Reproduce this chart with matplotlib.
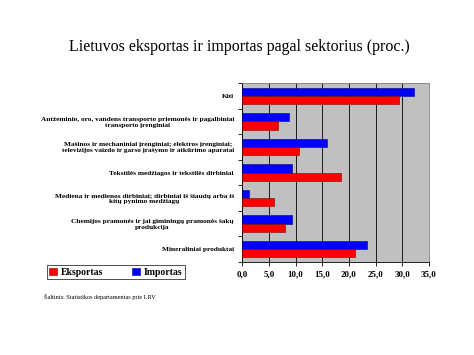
import matplotlib.pyplot as plt
import numpy as np

plt.rcParams['font.family'] = ['Liberation Serif', 'DejaVu Serif']

# sektoriai (iš viršaus į apačią)
sektoriai = [
    "Kiti",
    "Antžeminio, oro, vandens transporto priemonės ir pagalbiniai\ntransporto įrenginiai",
    "Mašinos ir mechaniniai įrenginiai; elektros įrenginiai;\ntelevizijos vaizdo ir garso įrašymo ir atkūrimo aparatai",
    "Tekstilės medžiagos ir tekstilės dirbiniai",
    "Mediena ir medienos dirbiniai; dirbiniai iš šiaudų arba iš\nkitų pynimo medžiagų",
    "Chemijos pramonės ir jai giminingų pramonės šakų\nprodukcija",
    "Mineraliniai produktai",
]
eksportas = [29.4, 6.8, 10.7, 18.5, 5.9, 8.0, 21.1]
importas = [32.2, 8.7, 15.8, 9.4, 1.3, 9.4, 23.4]
x_ticks = [0, 5, 10, 15, 20, 25, 30, 35]

fig = plt.figure(figsize=(4.74, 3.55), dpi=100)
ax = fig.add_axes([0.511, 0.262, 0.394, 0.504])
ax.set_facecolor('#c0c0c0')

y = np.arange(len(sektoriai))
h = 0.32
ax.barh(y - h / 2, importas, height=h, color='#0000ff', edgecolor='#000080', linewidth=0.4, label='Importas', zorder=3)
ax.barh(y + h / 2, eksportas, height=h, color='#ff0000', edgecolor='#800000', linewidth=0.4, label='Eksportas', zorder=3)

ax.set_xlim(0, 35)
ax.set_ylim(len(sektoriai) - 0.5, -0.5)
ax.set_xticks(x_ticks)
ax.set_xticklabels([f"{v:.1f}".replace('.', ',') for v in x_ticks], fontsize=6.5, fontweight='bold')
ax.set_yticks(y)
ax.set_yticklabels(sektoriai, fontsize=5.3, fontweight='bold', multialignment='center')
ax.set_yticks(np.arange(len(sektoriai) + 1) - 0.5, minor=True)
ax.tick_params(axis='y', which='major', length=0, pad=6)
ax.tick_params(axis='y', which='minor', length=3, width=0.6)
ax.tick_params(axis='x', length=3, width=0.6, pad=3)
ax.grid(axis='x', color='black', linewidth=0.6, zorder=0)
for s in ['top', 'right']:
    ax.spines[s].set_color('#808080')
    ax.spines[s].set_linewidth(0.6)
for s in ['left', 'bottom']:
    ax.spines[s].set_linewidth(0.6)

fig.text(0.505, 0.868, "Lietuvos eksportas ir importas pagal sektorius (proc.)", ha='center', va='center', fontsize=11.5)

handles, labels = ax.get_legend_handles_labels()
leg = fig.legend(handles[::-1], labels[::-1], loc='center left', bbox_to_anchor=(0.088, 0.233),
                 ncol=2, frameon=True, fancybox=False, edgecolor='black',
                 handlelength=0.8, handleheight=0.8, columnspacing=3.0, handletextpad=0.4,
                 borderpad=0.25, prop={'weight': 'bold', 'size': 7})
leg.get_frame().set_linewidth(0.6)

fig.text(0.093, 0.165, "Šaltinis: Statistikos departamentas prie LRV", fontsize=4.5, va='center')

fig.savefig('out.png', dpi=100, facecolor='white')
